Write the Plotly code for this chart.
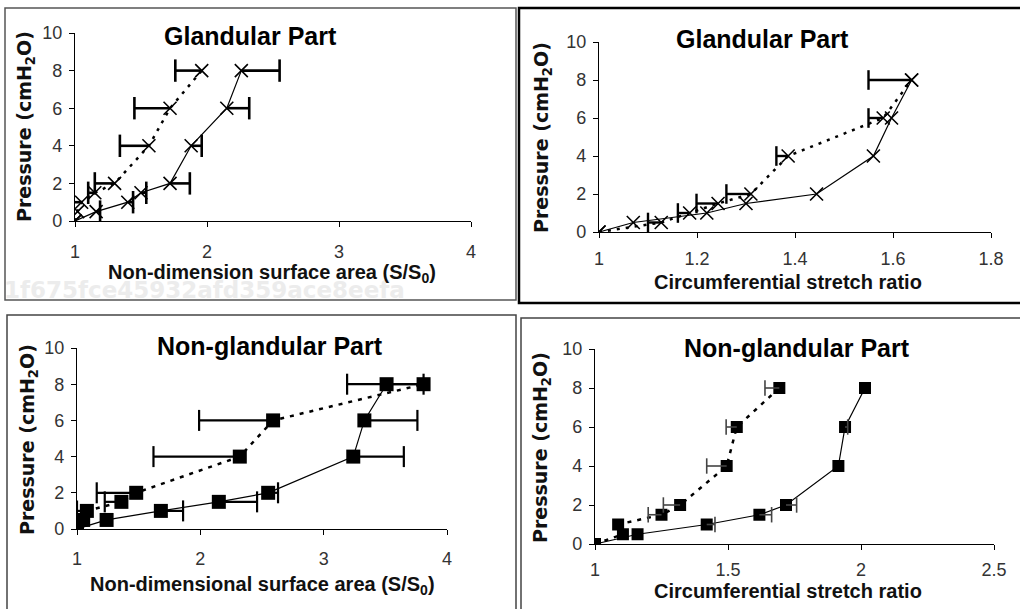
import plotly.graph_objects as go

W, H = 1020, 609

# pressure levels (cmH2O), shared by every curve
pressure = [0, 0.5, 1, 1.5, 2, 4, 6, 8]

# Glandular part - surface area ratio
gl_area_solid = [1.00, 1.16, 1.40, 1.50, 1.72, 1.88, 2.15, 2.26]
gl_area_solid_err = [0, 0.03, 0.04, 0.04, 0.15, 0.08, 0.17, 0.29]
gl_area_dot = [1.00, 1.02, 1.05, 1.15, 1.30, 1.56, 1.72, 1.96]
gl_area_dot_err = [0, 0, 0.08, 0.05, 0.15, 0.22, 0.27, 0.20]

# Glandular part - circumferential stretch
gl_stretch_solid = [1.00, 1.07, 1.22, 1.30, 1.444, 1.56, 1.597, 1.638]
gl_stretch_solid_err = [0, 0, 0, 0, 0, 0, 0, 0]
gl_stretch_dot = [1.00, 1.127, 1.185, 1.243, 1.31, 1.386, 1.58, 1.638]
gl_stretch_dot_err = [0, 0.027, 0.024, 0.044, 0.05, 0.024, 0.03, 0.088]

# Non-glandular part - surface area ratio
ngl_area_solid = [1.00, 1.24, 1.68, 2.15, 2.55, 3.24, 3.33, 3.51]
ngl_area_solid_err = [0, 0, 0.18, 0.31, 0.08, 0.41, 0.43, 0.30]
ngl_area_dot = [1.00, 1.05, 1.08, 1.36, 1.48, 2.32, 2.59, 3.81]
ngl_area_dot_err = [0, 0, 0.08, 0.135, 0.32, 0.70, 0.60, 0.62]

# Non-glandular part - circumferential stretch
ngl_stretch_solid = [1.00, 1.16, 1.42, 1.618, 1.718, 1.915, 1.94, 2.015]
ngl_stretch_solid_err = [0, 0, 0.031, 0.046, 0.04, 0, 0.01, 0]
ngl_stretch_dot = [1.00, 1.105, 1.087, 1.25, 1.32, 1.495, 1.533, 1.693]
ngl_stretch_dot_err = [0, 0, 0, 0.05, 0.063, 0.075, 0.04, 0.054]

TICK_FONT = dict(family="Liberation Sans, Arial", size=18, color="#333")
TITLE_FONT = dict(family="Liberation Sans, Arial", size=25, color="black")
XT_FONT = dict(family="Liberation Sans, Arial", size=20, color="#111")
YT_FONT = dict(family="DejaVu Sans", size=19, color="#111")


def px(x):
    return x / W


def py(y):
    return 1 - y / H


fig = go.Figure()


def add_curve(n, xs, err, side, dash, lw, marker, err_w, cap, err_col):
    xa, ya = "x%s" % n, "y%s" % n
    fig.add_trace(go.Scatter(
        x=xs, y=pressure, xaxis=xa, yaxis=ya, mode="lines+markers",
        line=dict(color="black", width=lw, dash=dash),
        marker=marker, hoverinfo="skip"))
    # one-sided horizontal error bars
    bx, by, cx, cy = [], [], [], []
    for x, y, e in zip(xs, pressure, err):
        if e <= 0:
            continue
        end = x + side * e
        bx += [x, end, None]
        by += [y, y, None]
        cx.append(end)
        cy.append(y)
    if bx:
        fig.add_trace(go.Scatter(
            x=bx, y=by, xaxis=xa, yaxis=ya, mode="lines",
            line=dict(color=err_col, width=err_w), hoverinfo="skip"))
        fig.add_trace(go.Scatter(
            x=cx, y=cy, xaxis=xa, yaxis=ya, mode="markers",
            marker=dict(symbol="line-ns-open", size=cap, color=err_col,
                        line=dict(color=err_col, width=err_w)),
            hoverinfo="skip"))


xmark = dict(symbol="x-thin-open", size=13, color="black",
             line=dict(color="black", width=1.6))
sq3 = dict(symbol="square", size=14, color="black")
sq4 = dict(symbol="square", size=12, color="black")

add_curve("", gl_area_dot, gl_area_dot_err, -1, "3px,6px", 2.5, xmark, 2.6, 16, "black")
add_curve("", gl_area_solid, gl_area_solid_err, 1, "solid", 1.2, xmark, 2.6, 16, "black")
add_curve(2, gl_stretch_dot, gl_stretch_dot_err, -1, "3px,6px", 2.5, xmark, 2.4, 14, "black")
add_curve(2, gl_stretch_solid, gl_stretch_solid_err, 1, "solid", 1.2, xmark, 2.4, 14, "black")
add_curve(3, ngl_area_dot, ngl_area_dot_err, -1, "4px,6px", 2.5, sq3, 2.2, 15, "black")
add_curve(3, ngl_area_solid, ngl_area_solid_err, 1, "solid", 1.2, sq3, 2.2, 15, "black")
add_curve(4, ngl_stretch_dot, ngl_stretch_dot_err, -1, "4px,6px", 2.5, sq4, 1.6, 11, "#444")
add_curve(4, ngl_stretch_solid, ngl_stretch_solid_err, 1, "solid", 1.2, sq4, 1.6, 11, "#444")

# plot areas in pixels: (left, right, top(y=10), bottom(y=0)), x range, dtick, label gap
panels = [
    ("", (75, 471, 33, 221), [1, 4], 1, 9),
    ("2", (599, 991, 42, 232), [1, 1.8], 0.2, 5),
    ("3", (77, 447, 348, 529), [1, 4], 1, 8),
    ("4", (595, 994, 349, 544), [1, 2.5], 0.5, 4),
]
axis_common = dict(showline=True, linecolor="black", linewidth=1.3, ticks="outside",
                   ticklen=5, tickcolor="black", showgrid=False, zeroline=False,
                   tickfont=TICK_FONT, fixedrange=True, automargin=False)
for n, (l, r, t, b), xr, dt, gap in panels:
    fig.layout["xaxis" + n] = dict(
        domain=[px(l), px(r)], range=xr, dtick=dt, anchor="y" + n,
        ticklabelstandoff=gap, **axis_common)
    fig.layout["yaxis" + n] = dict(
        domain=[py(b), py(t)], range=[0, 10], dtick=2, anchor="x" + n,
        ticklabelstandoff=3, **axis_common)

ann = []


def text(x, y, s, font, angle=0):
    ann.append(dict(x=px(x), y=py(y), xref="paper", yref="paper", text=s,
                    showarrow=False, font=font, textangle=angle,
                    xanchor="center", yanchor="middle"))


# watermark left in the source image
text(204, 290, "<b>1f675fce45932afd359ace8eefa</b>",
     dict(family="DejaVu Sans", size=23, color="#ececec"))

text(250, 36, "<b>Glandular Part</b>", TITLE_FONT)
text(762, 39, "<b>Glandular Part</b>", TITLE_FONT)
text(270, 346, "<b>Non-glandular Part</b>", TITLE_FONT)
text(797, 348, "<b>Non-glandular Part</b>", TITLE_FONT)

text(272, 273, "<b>Non-dimension surface area (S/S<sub>0</sub>)</b>", XT_FONT)
text(788, 282, "<b>Circumferential stretch ratio</b>", XT_FONT)
text(262, 585, "<b>Non-dimensional surface area (S/S<sub>0</sub>)</b>", XT_FONT)
text(788, 591, "<b>Circumferential stretch ratio</b>", XT_FONT)

ytitle = "<b>Pressure (cmH<sub>2</sub>O)</b>"
text(26, 127, ytitle, YT_FONT, -90)
text(543, 138, ytitle, YT_FONT, -90)
text(28, 440, ytitle, YT_FONT, -90)
text(541, 448, ytitle, YT_FONT, -90)

# frames of the four pasted panels
frames = [
    ((5, 8, 516, 300), 1.5, "#555"),
    ((519, 8, 1030, 303), 2.5, "black"),
    ((7, 315, 516, 620), 1.5, "#444"),
    ((521, 318, 1030, 620), 1.5, "#444"),
]
shapes = []
for (x0, y0, x1, y1), w, c in frames:
    shapes.append(dict(type="rect", xref="paper", yref="paper",
                       x0=px(x0), x1=px(x1), y0=py(y1), y1=py(y0),
                       line=dict(color=c, width=w), layer="below"))

fig.update_layout(
    width=W, height=H, margin=dict(l=0, r=0, t=0, b=0),
    paper_bgcolor="white", plot_bgcolor="rgba(0,0,0,0)",
    showlegend=False, annotations=ann, shapes=shapes,
)

# drop the default page margin so the figure sits at the window corner
fig.write_html("out.html", config={"displayModeBar": False},
               post_script="document.body.style.margin='0';document.body.style.overflow='hidden';")
